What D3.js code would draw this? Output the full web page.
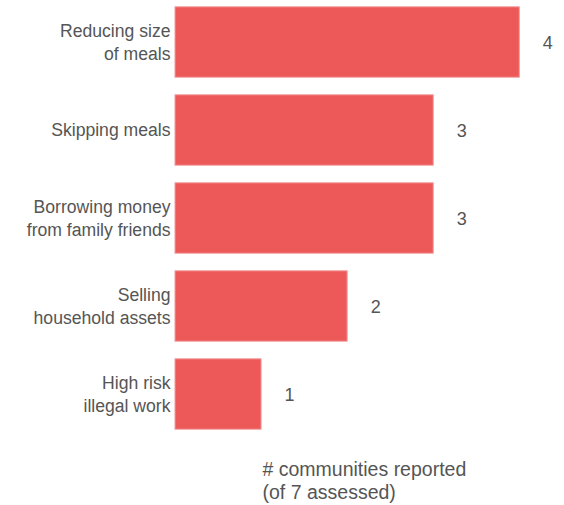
<!DOCTYPE html>
<html><head><meta charset="utf-8">
<script src="https://cdn.jsdelivr.net/npm/d3@7"></script>
<style>body{margin:0;background:#fff}svg{display:block}</style>
</head><body>
<script>
const categories = [["Reducing size","of meals"],["Skipping meals"],["Borrowing money","from family friends"],["Selling","household assets"],["High risk","illegal work"]];
const values = [4,3,3,2,1];
const axisTitle = ["# communities reported","(of 7 assessed)"];

const W=564,H=505;
const svg=d3.select("body").append("svg").attr("width",W).attr("height",H);
const x=d3.scaleLinear().domain([0,4]).range([175,519.3]);
const y=d3.scaleBand().domain(d3.range(categories.length)).range([-2,438]).paddingInner(0.2).paddingOuter(0.1);
const font="'Liberation Sans', Arial, sans-serif";
const col="#555";
const fs=17.6;

svg.selectAll("rect.bar").data(values).join("rect").attr("class","bar")
 .attr("x",x(0)).attr("y",(d,i)=>y(i)).attr("width",d=>x(d)-x(0)).attr("height",y.bandwidth())
 .attr("fill","#ED5959").attr("stroke","#F49B9B").attr("stroke-width",1);

const lh=23;
categories.forEach((lines,i)=>{
  const cy=y(i)+y.bandwidth()/2;
  const t=svg.append("text").attr("text-anchor","end").attr("font-family",font).attr("font-size",fs).attr("fill",col);
  lines.forEach((l,j)=>{
    t.append("tspan").attr("x",170.5).attr("y",cy+(j-(lines.length-1)/2)*lh+6.2).text(l);
  });
});

svg.selectAll("text.val").data(values).join("text").attr("class","val")
 .attr("x",d=>x(d)+23.5).attr("y",(d,i)=>y(i)+y.bandwidth()/2+6.5)
 .attr("font-family",font).attr("font-size",18).attr("fill",col).text(d=>d);

const at=svg.append("text").attr("font-family",font).attr("font-size",19.5).attr("fill",col);
axisTitle.forEach((l,j)=>at.append("tspan").attr("x",262.5).attr("y",476+j*23).text(l));
</script>
</body></html>
